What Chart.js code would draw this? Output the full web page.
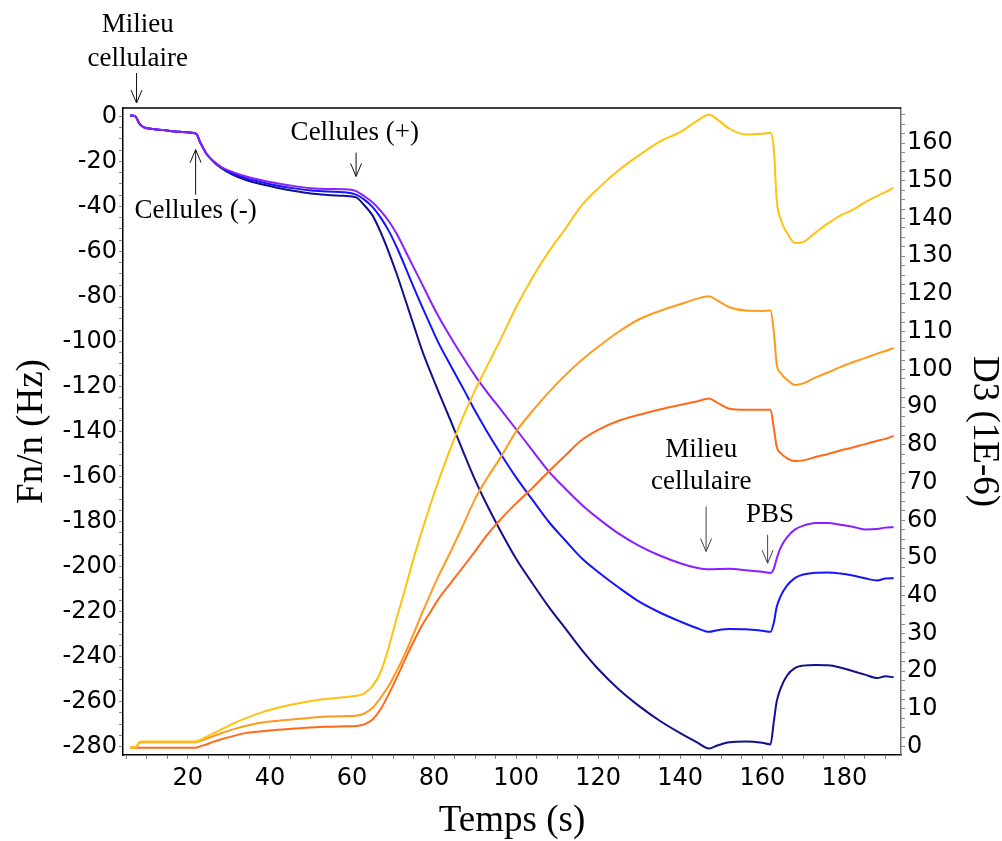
<!DOCTYPE html>
<html lang="fr">
<head>
<meta charset="UTF-8">
<title>QCM-D : Fn/n et D3</title>
<script src="https://cdn.jsdelivr.net/npm/chart.js"></script>
<style>
  body { margin: 0; background: #fff; }
  #wrap { width: 1002px; height: 841px; position: relative; }
</style>
</head>
<body>
<div id="wrap"><canvas id="qcm"></canvas></div>
<script>
// temps de mesure (s), commun aux six courbes
const temps = [5.9, 7.2, 8.2, 9.2, 11, 14, 18, 22, 23, 24.5, 26, 28, 31, 34, 38, 42, 46, 50, 54, 58,
  61, 63, 65, 67, 69, 71, 73, 75, 77, 79, 81, 84, 87, 90, 93, 96, 100, 104, 108, 112,
  116, 120, 125, 130, 135, 140, 144, 147, 149, 152, 156, 160, 162, 162.8, 163.5, 164.5, 166, 168, 170, 173,
  176, 179, 182, 185, 188, 190, 192];

// Fn/n (Hz) - axe de gauche
const fnViolet = [0.4, 0, -3.2, -4.8, -5.5, -6.1, -6.9, -7.7, -11.5, -16.5, -19.5, -22.3, -24.8, -26.6, -28.4, -29.8, -31, -31.9, -32.3, -32.4,
  -33.2, -35.5, -38.2, -42, -46.6, -52.5, -59.7, -67, -74.2, -81.6, -88.6, -98, -106.8, -115.2, -122.7, -129.6, -139, -148.5, -157.8, -165.4,
  -172.5, -178.6, -185.4, -190.8, -195.1, -198.5, -200.5, -201.2, -201.1, -201, -201.6, -202.3, -202.8, -201, -196.5, -191.5, -187, -183.5, -181.8, -180.6,
  -180.6, -181.4, -182.3, -183.5, -183.3, -182.7, -182.5];
const fnBleu = [0.4, 0, -3.2, -4.8, -5.5, -6.1, -6.9, -7.7, -11.5, -16.5, -19.6, -22.5, -25.4, -27.4, -29.3, -30.8, -32, -32.9, -33.4, -33.7,
  -34.8, -37, -40.2, -45, -51, -58.5, -67, -75.8, -84.2, -92.3, -100.3, -110.6, -120.5, -130.8, -140.3, -149.2, -160.4, -170.4, -180.2, -188.4,
  -196.3, -202.4, -209.3, -215.6, -220.4, -224.4, -227.3, -229, -228.3, -227.7, -227.8, -228.5, -229, -225, -218, -213, -208.5, -205, -203.5, -202.7,
  -202.6, -203.1, -204, -205.2, -206.2, -205.3, -205.2];
const fnMarine = [0.4, 0, -3.2, -4.8, -5.5, -6.1, -6.9, -7.7, -11.5, -16.5, -19.7, -22.8, -26, -28.2, -30.2, -31.8, -33.2, -34.3, -34.9, -35.3,
  -36, -39.5, -44, -51.5, -60.5, -70.5, -81.5, -92.5, -103.5, -113, -122, -135, -148.5, -161.5, -173, -183.5, -196.5, -207.5, -218, -227.5,
  -237, -245.5, -254.5, -262, -268.5, -274, -278, -280.8, -279.5, -278, -277.7, -278.3, -279, -269, -260, -254, -248.5, -245, -244, -243.7,
  -243.8, -244.8, -246.4, -248, -249.5, -248.7, -249.2];

// D3 (1E-6) - axe de droite
const d3Jaune = [-0.2, -0.2, 1.2, 1.4, 1.4, 1.4, 1.4, 1.4, 1.8, 2.6, 3.4, 4.5, 6.1, 7.5, 9.1, 10.3, 11.3, 12.1, 12.7, 13.1,
  13.5, 14.1, 16.1, 19.8, 26.5, 34.5, 42, 49.8, 57, 63.8, 70.2, 79, 87.2, 94.5, 101, 107.5, 116.5, 124.4, 131.3, 137.3,
  143.5, 148, 152.8, 156.8, 160.4, 162.9, 165.8, 167.5, 166.3, 163.8, 162.3, 162.5, 162.7, 158.5, 145, 139.8, 136.2, 133.5, 133.8, 136.3,
  138.7, 140.8, 142.3, 144.3, 146, 147, 148.1];
const d3Orange = [-0.2, -0.2, 1.0, 1.2, 1.2, 1.2, 1.2, 1.2, 1.5, 2.1, 2.7, 3.5, 4.6, 5.5, 6.4, 6.9, 7.3, 7.7, 8, 8.1,
  8.2, 8.8, 10.3, 13, 16.2, 20.3, 24.8, 29.9, 35.2, 40.2, 45, 51.6, 58.5, 65.7, 71.3, 76.3, 83.5, 89, 94, 98.5,
  102.5, 106, 110, 113.3, 115.5, 117.3, 118.7, 119.4, 118.3, 116.5, 115.6, 115.5, 115.6, 110, 101.5, 99, 97.3, 95.9, 96.3, 97.9,
  99.2, 100.6, 101.9, 103, 104.2, 104.9, 105.7];
const d3Rouille = [-0.2, -0.3, -0.3, -0.3, -0.3, -0.3, -0.3, -0.3, 0.1, 0.6, 1.2, 1.9, 2.8, 3.6, 4.1, 4.5, 4.8, 5.1, 5.3, 5.4,
  5.5, 5.9, 7.2, 10, 14, 18.5, 23.3, 27.8, 32, 35.5, 39, 43.3, 47.5, 51.8, 56.2, 60, 64.5, 68.6, 73, 77.2,
  81.3, 84, 86.4, 88, 89.4, 90.6, 91.5, 92.3, 91.2, 89.6, 89.3, 89.3, 89.3, 84.5, 79.5, 77.8, 76.5, 75.7, 75.9, 76.8,
  77.6, 78.5, 79.3, 80.2, 81.1, 81.6, 82.4];

// graduations affichées
const ticksTemps = [20, 40, 60, 80, 100, 120, 140, 160, 180];
const ticksFn = [0, -20, -40, -60, -80, -100, -120, -140, -160, -180, -200, -220, -240, -260, -280];
const ticksD3 = [0, 10, 20, 30, 40, 50, 60, 70, 80, 90, 100, 110, 120, 130, 140, 150, 160];

function points(vals) {
  return temps.map((t, i) => ({ x: t, y: vals[i] }));
}
function serie(label, vals, color, axe) {
  return {
    label: label, data: points(vals), yAxisID: axe,
    borderColor: color, borderWidth: 2, pointRadius: 0,
    cubicInterpolationMode: 'monotone', fill: false
  };
}
// petites graduations régulières (pas) entre min et max de l'axe
function graduations(pas) {
  return s => {
    const liste = [];
    for (let k = Math.ceil(s.min / pas - 1e-9); k * pas <= s.max + 1e-9; k++) {
      liste.push({ value: +(k * pas).toFixed(4) });
    }
    s.ticks = liste;
  };
}
function etiquette(valeurs) {
  return v => {
    const r = Math.round(v);
    return Math.abs(v - r) < 1e-6 && valeurs.includes(r) ? String(r) : '';
  };
}

const serif = '"Liberation Serif", "Times New Roman", serif';
const sans = '"DejaVu Sans", Verdana, sans-serif';

// flèches et textes d'annotation
function fleche(ctx, x, y0, y1, couleur) {
  const d = y1 > y0 ? -1 : 1;
  ctx.save();
  ctx.strokeStyle = couleur;
  ctx.lineWidth = 1;
  ctx.beginPath();
  ctx.moveTo(x, y0); ctx.lineTo(x, y1);
  ctx.moveTo(x - 5.5, y1 + d * 13); ctx.lineTo(x, y1); ctx.lineTo(x + 5.5, y1 + d * 13);
  ctx.stroke();
  ctx.restore();
}
function texte(ctx, str, x, y) {
  ctx.save();
  ctx.font = '27px ' + serif;
  ctx.fillStyle = '#000';
  ctx.textAlign = 'center';
  ctx.textBaseline = 'alphabetic';
  ctx.fillText(str, x, y);
  ctx.restore();
}

const annotations = {
  id: 'annotations',
  afterDraw(chart) {
    const { ctx, chartArea, scales } = chart;
    const X = v => scales.x.getPixelForValue(v);
    const Y = v => scales.y.getPixelForValue(v);

    // bord supérieur du cadre
    ctx.save();
    ctx.strokeStyle = '#000';
    ctx.lineWidth = 1.5;
    ctx.beginPath();
    ctx.moveTo(chartArea.left, chartArea.top);
    ctx.lineTo(chartArea.right, chartArea.top);
    ctx.stroke();
    ctx.restore();

    // Milieu cellulaire (début)
    texte(ctx, 'Milieu', X(7.8), chartArea.top - 76);
    texte(ctx, 'cellulaire', X(7.8), chartArea.top - 42);
    fleche(ctx, X(7.5), chartArea.top - 35, chartArea.top - 5, '#111');

    // Cellules (-)
    fleche(ctx, X(21.9), Y(-34.8), Y(-14.8), '#111');
    texte(ctx, 'Cellules (-)', X(21.9), Y(-45));

    // Cellules (+)
    texte(ctx, 'Cellules (+)', X(60.7), Y(-10.4));
    fleche(ctx, X(61), Y(-16.1), Y(-26.7), '#111');

    // Milieu cellulaire (fin)
    texte(ctx, 'Milieu', X(145.1), Y(-151.2));
    texte(ctx, 'cellulaire', X(145.1), Y(-165.5));
    fleche(ctx, X(146.3), Y(-173.3), Y(-193.3), '#444');

    // PBS
    texte(ctx, 'PBS', X(161.9), Y(-180.1));
    fleche(ctx, X(161.3), Y(-185.9), Y(-198.5), '#444');
  }
};

const grille = { display: true, drawOnChartArea: false, drawTicks: true, tickLength: 4, tickColor: '#888', tickWidth: 1 };

new Chart(document.getElementById('qcm'), {
  type: 'line',
  data: {
    datasets: [
      serie('D3 jaune', d3Jaune, '#ffc20e', 'y2'),
      serie('D3 orange', d3Orange, '#ff9a1f', 'y2'),
      serie('D3 orange foncé', d3Rouille, '#ff6a1a', 'y2'),
      serie('Fn/n violet', fnViolet, '#8a1fff', 'y'),
      serie('Fn/n bleu', fnBleu, '#1414ff', 'y'),
      serie('Fn/n bleu marine', fnMarine, '#10108f', 'y')
    ]
  },
  options: {
    responsive: true,
    maintainAspectRatio: false,
    animation: false,
    layout: { padding: { top: 108, left: 0, right: 0, bottom: 0 } },
    plugins: { legend: { display: false }, tooltip: { enabled: false } },
    scales: {
      x: {
        type: 'linear', min: 4.2, max: 193.8,
        grid: grille,
        border: { color: '#000', width: 1.5 },
        afterBuildTicks: graduations(5),
        afterFit: s => { s.height = 86; },
        ticks: {
          autoSkip: false, maxRotation: 0, padding: 5,
          color: '#000', font: { family: sans, size: 24 },
          callback: etiquette(ticksTemps)
        },
        title: { display: true, text: 'Temps (s)', color: '#000', font: { family: serif, size: 37, lineHeight: 1 }, padding: { top: 0, bottom: 1 } }
      },
      y: {
        type: 'linear', position: 'left', min: -283.7, max: 3.7,
        grid: grille,
        border: { color: '#000', width: 1.5 },
        afterBuildTicks: graduations(5),
        afterFit: s => { s.width = 123; },
        ticks: {
          autoSkip: false, padding: 2,
          color: '#000', font: { family: sans, size: 24 },
          callback: etiquette(ticksFn)
        },
        title: { display: true, text: 'Fn/n (Hz)', color: '#000', font: { family: serif, size: 37, lineHeight: 1 }, padding: { top: 14, bottom: 0 } }
      },
      y2: {
        type: 'linear', position: 'right', min: -2.2, max: 169.3,
        grid: grille,
        border: { color: '#707070', width: 1.5 },
        afterBuildTicks: graduations(2.5),
        afterFit: s => { s.width = 101; },
        ticks: {
          autoSkip: false, padding: 2,
          color: '#000', font: { family: sans, size: 24 },
          callback: etiquette(ticksD3)
        },
        title: { display: true, text: 'D3 (1E-6)', color: '#000', font: { family: serif, size: 37, lineHeight: 1 }, padding: { top: 0, bottom: 0 } }
      }
    }
  },
  plugins: [annotations]
});
</script>
</body>
</html>
